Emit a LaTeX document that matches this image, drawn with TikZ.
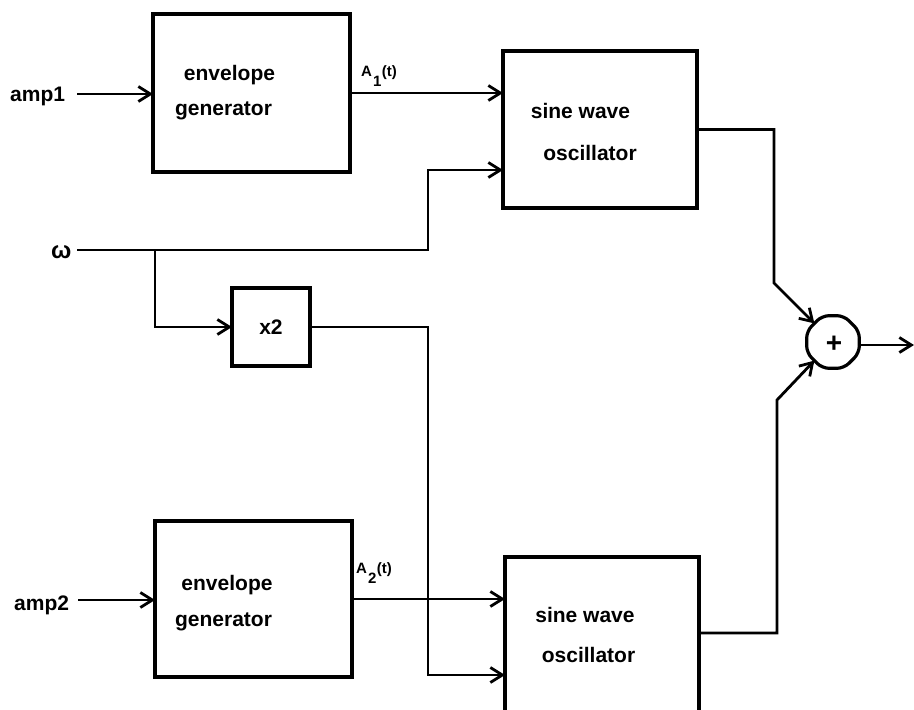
\documentclass[tikz,border=0pt]{standalone}
\usepackage{fontspec}
\setmainfont{Liberation Sans}
\usetikzlibrary{arrows.meta,shapes.geometric}
\tikzset{
  blk/.style={draw, line width=3.2pt, rectangle, inner sep=0pt, outer sep=0pt},
  txt/.style={font=\fontsize{21}{24}\selectfont\bfseries, inner sep=0pt, anchor=base},
  lab/.style={font=\fontsize{21}{24}\selectfont\bfseries, inner sep=0pt, anchor=base west},
  sublab/.style={font=\fontsize{15}{18}\selectfont\bfseries, inner sep=0pt, anchor=base west},
  arr/.style={line width=2.8pt, -{Straight Barb[length=12pt,width=15pt,line width=2.8pt]}}
}
\begin{document}
\begin{tikzpicture}[x=1pt,y=1pt]
\useasboundingbox (0,0) rectangle (914,-710);
\clip (0,0) rectangle (914,-710);
% blocks
\node[blk, minimum width=197pt, minimum height=158pt] (env1) at (251.5,-93) {};
\node[blk, minimum width=194pt, minimum height=157pt] (sine1) at (600,-129.5) {};
\node[blk, minimum width=78pt, minimum height=78pt] (x2) at (271,-327) {};
\node[blk, minimum width=197pt, minimum height=156pt] (env2) at (253.5,-599) {};
\node[blk, minimum width=194pt, minimum height=163pt] (sine2) at (602,-638.5) {};
\node[draw, line width=3.2pt, regular polygon, regular polygon sides=8, minimum size=57pt,
      rounded corners=7pt, inner sep=0pt, outer sep=0pt] (sum) at (833,-342) {};
\node[font=\fontsize{28}{30}\selectfont\bfseries, inner sep=0pt] (plus) at ([xshift=1pt,yshift=-2pt]sum.center) {+};
% block texts
\node[txt] (e1a) at (229.5,-80) {envelope};
\node[txt] (e1b) at (223.5,-115) {generator};
\node[txt] (s1a) at (580.5,-118) {sine wave};
\node[txt] (s1b) at (590,-160) {oscillator};
\node[txt, anchor=center] (x2t) at (x2.center) {x2};
\node[txt] (e2a) at (227,-590) {envelope};
\node[txt] (e2b) at (223.5,-626) {generator};
\node[txt] (s2a) at (585,-622) {sine wave};
\node[txt] (s2b) at (588.5,-662) {oscillator};
% input labels
\node[lab] (amp1) at (10,-101) {amp1};
\node[lab] (amp2) at (14,-610) {amp2};
\node[lab, font=\fontsize{24}{26}\selectfont\bfseries] (omega) at (51,-258) {ω};
\node[sublab] (a1) at (361,-76) {A\kern1pt\raisebox{-10pt}{1}\kern0.5pt(t)};
\node[sublab] (a2) at (356,-573) {A\kern1pt\raisebox{-10pt}{2}\kern0.5pt(t)};
% helper coordinates
\coordinate (xcol) at (428,0);
\coordinate (split) at (155,-250);
\coordinate (wstart) at (77,-250);
\coordinate (s1in) at ([yshift=38pt]sine1.south west);
\coordinate (s2in) at ([yshift=-118pt]sine2.north west);
\coordinate (s2out) at ([yshift=5.5pt]sine2.east);
\coordinate (c1) at (774,-283);
\coordinate (c2) at (777,-400);
\coordinate (out) at (914,-345);
\coordinate (a1s) at (77,-94);
\coordinate (a2s) at (78,-600);
% connectors
\draw[arr] (a1s) -- (env1.west |- a1s);
\draw[arr] (a2s) -- (env2.west |- a2s);
\draw[arr] (env1.east) -- (sine1.west |- env1.east);
\draw[arr] (env2.east) -- (sine2.west |- env2.east);
\draw[arr] (wstart) -- (wstart -| xcol) |- (s1in);
\draw[arr] (split) |- (x2.west);
\draw[arr] (x2.east) -| (xcol |- s2in) -- (s2in);
\draw[arr] (sine1.east) -| (c1) -- (sum.135);
\draw[arr] (s2out) -| (c2) -- (sum.225);
\draw[arr] (sum.east |- out) -- (out);
\end{tikzpicture}
\end{document}
